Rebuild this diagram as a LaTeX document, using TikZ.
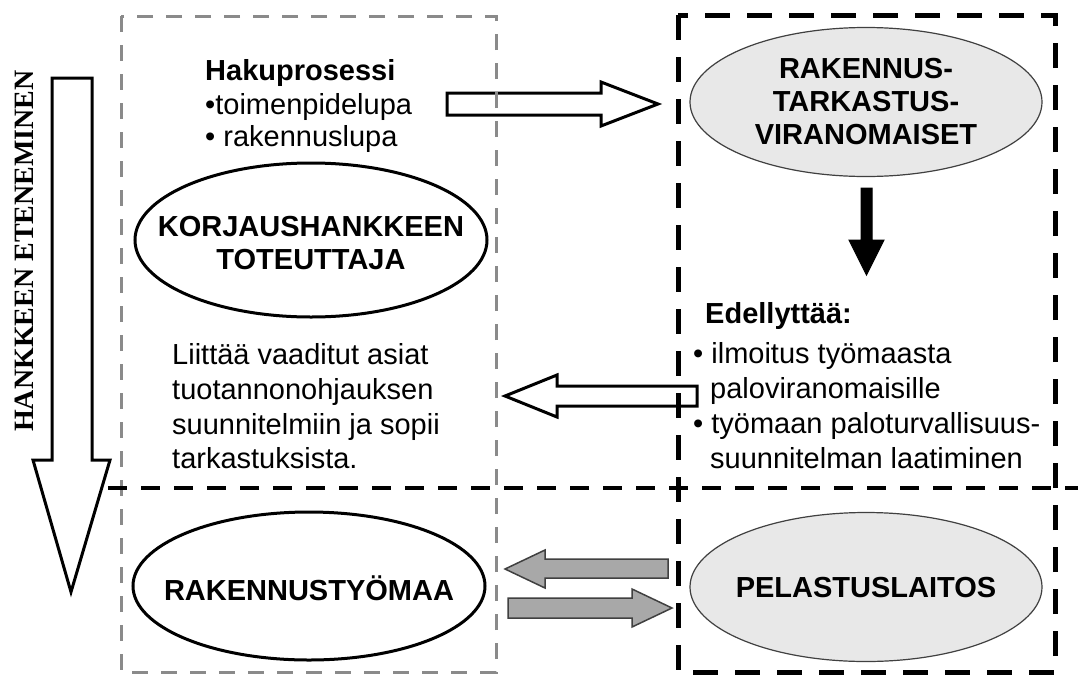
\documentclass[tikz,border=0pt]{standalone}
\usepackage{fontspec}
\setmainfont{Liberation Sans}
\newfontfamily\timesfont{Liberation Serif}
\usetikzlibrary{shapes.geometric}
\definecolor{boxgray}{HTML}{8A8A8A}
\definecolor{ellfill}{HTML}{E8E8E8}
\definecolor{arrgray}{HTML}{A8A8A8}
\definecolor{arredge}{HTML}{404040}
\begin{document}
\begin{tikzpicture}[x=1pt,y=-1pt,
  txt/.style={font=\fontsize{29}{34}\selectfont, inner sep=0pt, anchor=base west},
  elltxt/.style={font=\bfseries\fontsize{29}{33}\selectfont, inner sep=0pt, align=center},
  whiteell/.style={ellipse, draw=black, line width=3pt, fill=white, inner sep=0pt},
  grayell/.style={ellipse, draw=arredge, line width=1.2pt, fill=ellfill, inner sep=0pt},
  hollowarrow/.style={draw=black, line width=3pt, fill=white, line join=miter},
  solidarrow/.style={draw=black, line width=1pt, fill=black, line join=miter},
  grayarrow/.style={draw=arredge, line width=1.5pt, fill=arrgray, line join=miter},
  graybox/.style={draw=boxgray, line width=3pt, dash pattern=on 16pt off 13pt},
  blackbox/.style={draw=black, line width=5pt, dash pattern=on 25pt off 17pt},
  hline/.style={draw=black, line width=4.5pt, dash pattern=on 19pt off 14pt}]
\useasboundingbox (0,0) rectangle (1078,675);
\fill[white] (0,0) rectangle (1078,675);

% progress arrow and its label
\draw[hollowarrow] (52,78) -- (92,78) -- (92,460) -- (110,460) -- (71,592) -- (33,460) -- (52,460) -- cycle;
\node[rotate=90, inner sep=0pt, font=\timesfont\bfseries\fontsize{28}{30}\selectfont] (prog) at (24,251) {HANKKEEN ETENEMINEN};

% block arrows
\draw[hollowarrow] (447,93) -- (601,93) -- (601,82) -- (658,104) -- (601,126) -- (601,115) -- (447,115) -- cycle;
\draw[hollowarrow] (697,386) -- (557,386) -- (557,375) -- (505,396) -- (557,417) -- (557,406) -- (697,406) -- cycle;
\draw[solidarrow] (861,188) -- (872,188) -- (872,240) -- (884,240) -- (866.5,275) -- (849,240) -- (861,240) -- cycle;
\draw[grayarrow] (668,559) -- (545,559) -- (545,550) -- (505,569) -- (545,588) -- (545,578) -- (668,578) -- cycle;
\draw[grayarrow] (508,598) -- (632,598) -- (632,589) -- (672,608) -- (632,627) -- (632,618) -- (508,618) -- cycle;

% frames
\draw[graybox] (121,16) rectangle (496,672);
\draw[blackbox] (678,15) rectangle (1055,672);
\draw[hline] (108,488) -- (1078,488);

% ellipses
\node[grayell, minimum width=352pt, minimum height=149pt] (rtv) at (866,102) {};
\node[elltxt] (rtvt) at (rtv.center) {RAKENNUS-\\TARKASTUS-\\VIRANOMAISET};
\node[whiteell, minimum width=352pt, minimum height=154pt] (korj) at (311,240) {};
\node[elltxt] (korjt) at (311,243) {KORJAUSHANKKEEN\\TOTEUTTAJA};
\node[whiteell, minimum width=352pt, minimum height=148pt] (rty) at (309,586) {};
\node[elltxt] (rtyt) at (309,588) {RAKENNUSTYÖMAA};
\node[grayell, minimum width=352pt, minimum height=149pt] (pel) at (866,587) {};
\node[elltxt] (pelt) at (866,588) {PELASTUSLAITOS};

% texts upper left
\node[txt] (h1) at (205,80) {\bfseries Hakuprosessi};
\node[txt] (h2) at (205,114) {•toimenpidelupa};
\node[txt] (h3) at (205,146) {• rakennuslupa};

% texts lower left
\node[txt] (l1) at (172,364) {Liittää vaaditut asiat};
\node[txt] (l2) at (172,399) {tuotannonohjauksen};
\node[txt] (l3) at (172,434) {suunnitelmiin ja sopii};
\node[txt] (l4) at (172,468) {tarkastuksista.};

% texts right
\node[txt] (e1) at (705,323) {\bfseries Edellyttää:};
\node[txt] (e2) at (693,363) {• ilmoitus työmaasta};
\node[txt] (e3) at (710,398) {paloviranomaisille};
\node[txt] (e4) at (693,433) {• työmaan paloturvallisuus-};
\node[txt] (e5) at (710,468) {suunnitelman laatiminen};
\end{tikzpicture}
\end{document}
